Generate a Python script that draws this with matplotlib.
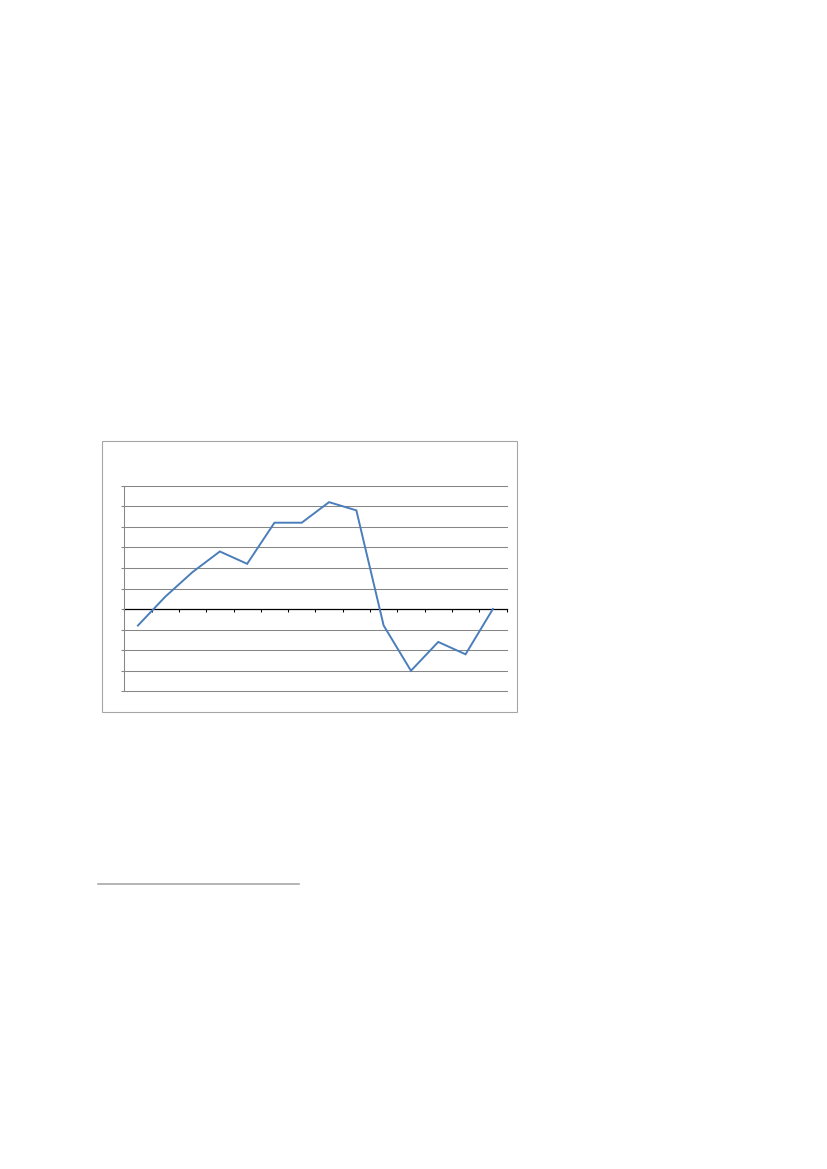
import matplotlib
matplotlib.use("Agg")
import matplotlib.pyplot as plt
from matplotlib.patches import Rectangle
from matplotlib.lines import Line2D
import numpy as np

# Data (no labels in the reference; values in gridline units)
categories = list(range(1, 15))
values = [-0.8, 0.6, 1.8, 2.8, 2.2, 4.2, 4.2, 5.2, 4.8, -0.8, -3.0, -1.6, -2.2, 0.0]
y_ticks = [-4, -3, -2, -1, 0, 1, 2, 3, 4, 5, 6]

W, H = 827, 1169
fig = plt.figure(figsize=(W / 100, H / 100), dpi=100)
fig.patch.set_facecolor("white")

def fx(px):
    return px / W

def fy(py):
    return 1 - py / H

# Chart frame
fig.add_artist(Rectangle((fx(101.5), fy(712)), fx(517) - fx(101.5), fy(441) - fy(712),
                         transform=fig.transFigure, fill=False,
                         edgecolor="#a6a6a6", linewidth=0.8))

# Plot area
left, right, top, bottom = 124.3, 506.5, 485.7, 691.3
ax = fig.add_axes([fx(left), fy(bottom), fx(right) - fx(left), fy(top) - fy(bottom)])
x = np.arange(len(categories))
ax.set_xlim(-0.5, len(categories) - 0.5)
ax.set_ylim(min(y_ticks), max(y_ticks))

for yv in y_ticks:
    if yv != 0:
        ax.axhline(yv, color="#868686", linewidth=0.75, zorder=1, clip_on=False)

ax.plot(x, values, color="#4a7ebb", linewidth=1.4, zorder=3,
        solid_joinstyle="miter")

for s in ["top", "right"]:
    ax.spines[s].set_visible(False)
ax.spines["left"].set_color("#868686")
ax.spines["left"].set_linewidth(0.75)
ax.spines["bottom"].set_position(("data", 0))
ax.spines["bottom"].set_color("black")
ax.spines["bottom"].set_linewidth(0.9)
ax.spines["bottom"].set_zorder(2)

ax.set_yticks(y_ticks)
ax.set_yticklabels([])
ax.set_xticks(np.arange(-0.5, len(categories) + 0.5, 1.0))
ax.set_xticklabels([])
ax.tick_params(axis="y", direction="out", length=2.2, width=0.75, color="#868686")
ax.tick_params(axis="x", direction="out", length=1.8, width=0.75, color="black")
ax.patch.set_alpha(0)

# Footnote separator line
fig.add_artist(Line2D([fx(98.3), fx(298.7)], [fy(884), fy(884)],
                      transform=fig.transFigure, color="#a0a0a0", linewidth=1.1))

fig.savefig("out.png", dpi=100)
